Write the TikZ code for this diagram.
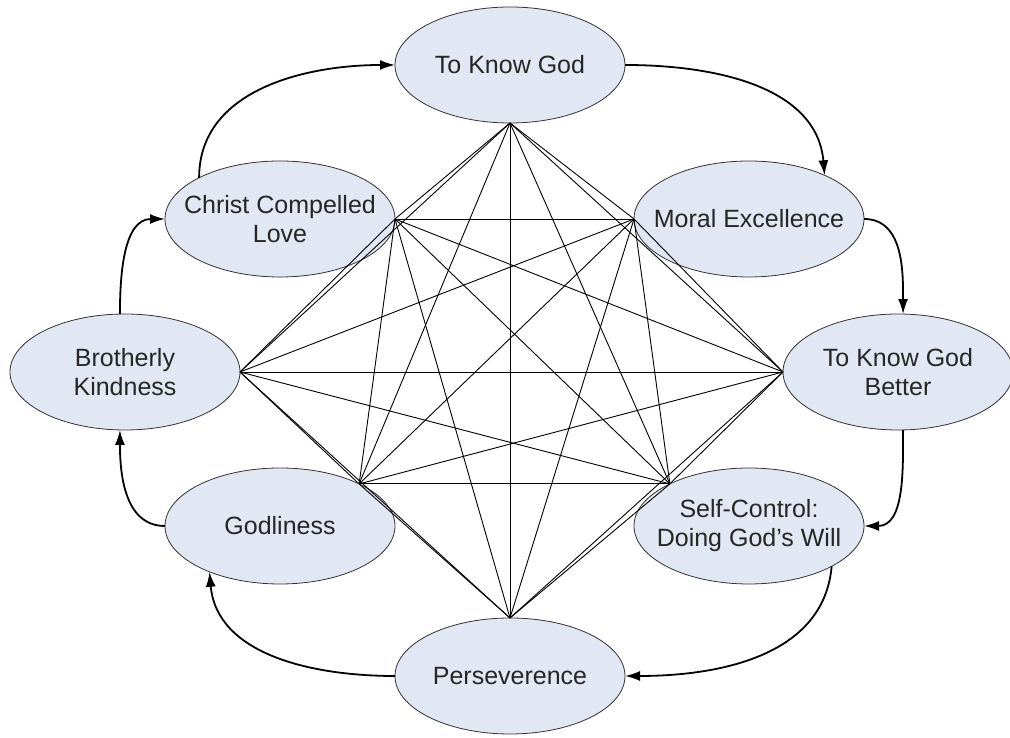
\documentclass[tikz,border=0pt]{standalone}
\usepackage{fontspec}
\setmainfont{Liberation Sans}
\usetikzlibrary{arrows.meta, shapes.geometric}
\definecolor{ellfill}{RGB}{225,231,243}

\begin{document}
\begin{tikzpicture}[x=1pt, y=1pt,
every node/.style = {ellipse, draw=black!80, fill=ellfill, line width=0.8pt,
                     minimum width=230pt, minimum height=116pt,
                     inner sep=-20pt, outer sep=0pt,
                     font=\fontsize{25}{29}\selectfont,
                     text=black!85, align=center},
web/.style   = {line width=0.9pt},
cycle/.style = {line width=1.8pt, -{Latex[length=15pt,width=10pt]}},
                    ]
\useasboundingbox (0,0) rectangle (1010,738);
%-------
\node (god)     at (510,673)    {To Know God};
\node (moral)   at (749,519)    {Moral Excellence};
\node (better)  at (898,366)    {To Know God\\Better};
\node (self)    at (749,212)    {Self-Control:\\Doing God's Will};
\node (perse)   at (510,62)     {Perseverence};
\node (godli)   at (280,212)    {Godliness};
\node (brother) at (125,366)    {Brotherly\\Kindness};
\node (christ)  at (280,519)    {Christ Compelled\\Love};
%---
\coordinate (p1) at (god.south);
\coordinate (p2) at (moral.west);
\coordinate (p3) at (better.west);
\coordinate (p4) at (self.152);
\coordinate (p5) at (perse.north);
\coordinate (p6) at (godli.28);
\coordinate (p7) at (brother.east);
\coordinate (p8) at (christ.east);
% every point to every other
\foreach \i [evaluate=\i as \k using int(\i+1)] in {1,...,7}
    \foreach \j in {\k,...,8}
        \draw[web] (p\i) -- (p\j);
% round the ring
\draw[cycle] (christ.153)  to[out=90,  in=180] (god.west);
\draw[cycle] (god.east)    to[out=0,   in=95]  (moral.30);
\draw[cycle] (moral.east)  to[out=0,   in=90]  (better.85);
\draw[cycle] (better.275)  to[out=-90, in=0]   (self.east);
\draw[cycle] (self.-26)    to[out=-95, in=0]   (perse.east);
\draw[cycle] (perse.west)  to[out=180, in=-85] (godli.213);
\draw[cycle] (godli.west)  to[out=180, in=-90] (brother.265);
\draw[cycle] (brother.95)  to[out=90,  in=180] (christ.west);
\end{tikzpicture}
\end{document}
